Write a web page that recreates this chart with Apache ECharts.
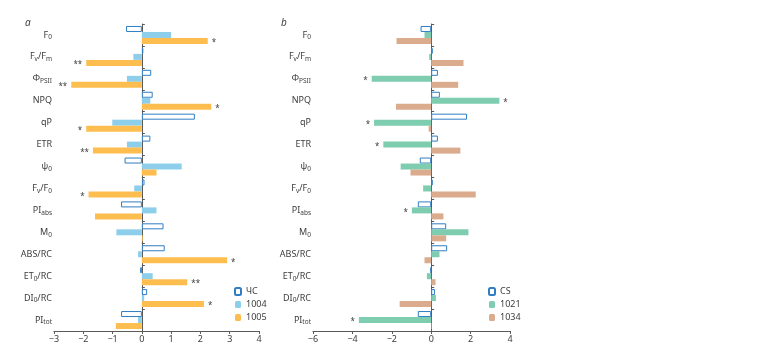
<!DOCTYPE html>
<html>
<head>
    <meta charset="utf-8">
    <script src="https://cdn.jsdelivr.net/npm/echarts@6/dist/echarts.min.js"></script>
    <title>chart</title>
    <style>
        html, body { margin: 0; padding: 0; background: #fff; }
        #main { width: 762px; height: 356px; }
    </style>
</head>
<body>
<div id="main"></div>
<script>
    // categories, top to bottom
    var categories = ['F0', 'Fv/Fm', 'ΦPSII', 'NPQ', 'qP', 'ETR', 'ψ0', 'Fv/F0', 'PIabs', 'M0', 'ABS/RC', 'ET0/RC', 'DI0/RC', 'PItot'];
    var catLabels = ['F{s|0}', 'F{s|v}/F{s|m}', 'Φ{s|PSII}', 'NPQ', 'qP', 'ETR', 'ψ{s|0}', 'F{s|v}/F{s|0}',
        'PI{s|abs}', 'M{s|0}', 'ABS/RC', 'ET{s|0}/RC', 'DI{s|0}/RC', 'PI{s|tot}'];

    // panel a
    var namesA = ['ЧС', '1004', '1005'];
    var csA = [-0.54, 0.05, 0.32, 0.37, 1.81, 0.29, -0.59, 0.09, -0.71, 0.74, 0.78, -0.06, 0.18, -0.71];
    var v1004 = [1.0, -0.29, -0.51, 0.29, -1.01, -0.51, 1.36, -0.26, 0.5, -0.87, -0.13, 0.37, 0.08, -0.13];
    var v1005 = [2.25, -1.9, -2.41, 2.37, -1.9, -1.67, 0.5, -1.82, -1.6, 0.03, 2.91, 1.55, 2.12, -0.89];
    var sig1005 = ['*', '**', '**', '*', '*', '**', '', '*', '', '', '*', '**', '*', ''];
    var ticksA = [-3, -2, -1, 0, 1, 2, 3, 4];

    // panel b
    var namesB = ['CS', '1021', '1034'];
    var csB = [-0.54, 0.08, 0.34, 0.44, 1.82, 0.34, -0.58, 0.08, -0.68, 0.76, 0.81, -0.03, 0.19, -0.68];
    var v1021 = [-0.34, -0.1, -3.02, 3.46, -2.9, -2.43, -1.55, -0.41, -0.98, 1.89, 0.42, -0.22, 0.24, -3.67];
    var v1034 = [-1.76, 1.64, 1.37, -1.79, -0.13, 1.48, -1.05, 2.26, 0.62, 0.76, -0.34, 0.22, -1.6, 0.03];
    var sig1021 = ['', '', '*', '*', '*', '*', '', '', '*', '', '', '', '', '*'];
    var ticksB = [-6, -4, -2, 0, 2, 4];

    var txt = '#3c3c3c';
    var axisCol = '#5a5a5a';
    var font = 'Noto Sans';

    function withMarks(vals, marks) {
        return vals.map(function (v, i) {
            if (!marks || !marks[i]) return v;
            return {
                value: v,
                label: {
                    show: true, formatter: marks[i], position: v < 0 ? 'left' : 'right',
                    distance: 4, fontSize: 8, color: txt, fontFamily: font, offset: [0, 2]
                }
            };
        });
    }

    // labels sit at the grid's left edge
    function labelAxis(g) {
        return {
            type: 'category', gridIndex: g, data: categories, inverse: true,
            axisLine: {show: false, onZero: false}, axisTick: {show: false},
            axisLabel: {
                margin: 2, color: txt, fontSize: 9, fontFamily: font,
                formatter: function (v) { return catLabels[categories.indexOf(v)]; },
                rich: {s: {fontSize: 6.5, color: txt, fontFamily: font, padding: [5, 0, 0, 0]}}
            }
        };
    }

    // axis line drawn at x = 0
    function zeroAxis(g) {
        return {
            type: 'category', gridIndex: g, data: categories, inverse: true,
            axisLine: {show: true, onZero: true, lineStyle: {color: axisCol, width: 1}},
            axisTick: {show: true, length: 3, lineStyle: {color: axisCol}},
            axisLabel: {show: false}
        };
    }

    function valueAxis(g, ticks) {
        return {
            type: 'value', gridIndex: g, min: ticks[0], max: ticks[ticks.length - 1],
            interval: ticks[1] - ticks[0],
            splitLine: {show: false},
            axisLine: {show: true, onZero: false, lineStyle: {color: axisCol}},
            axisTick: {show: true, length: 3, lineStyle: {color: axisCol}},
            axisLabel: {
                color: txt, fontSize: 9, fontFamily: font, margin: 4,
                formatter: function (v) { return String(v).replace('-', '\u2212'); }
            }
        };
    }

    function bar(name, g, vals, marks, style) {
        return {
            name: name, type: 'bar', xAxisIndex: g, yAxisIndex: g * 2,
            data: withMarks(vals, marks), barWidth: 6, barGap: '0%',
            itemStyle: style, emphasis: {disabled: true}
        };
    }

    function legend(names, left) {
        return {
            data: names, left: left, top: 282, orient: 'vertical',
            itemWidth: 6, itemHeight: 7, itemGap: 4, itemTextGap: 3,
            textStyle: {fontSize: 9, color: txt, fontFamily: font}, selectedMode: false
        };
    }

    var csStyle = {color: '#ffffff', borderColor: '#2f7dc2', borderWidth: 1};

    var option = {
        animation: false,
        textStyle: {fontFamily: font},
        title: [
            {text: 'a', left: 20, top: 13, textStyle: {fontSize: 10, fontStyle: 'italic', fontWeight: 'normal', color: txt}},
            {text: 'b', left: 276, top: 13, textStyle: {fontSize: 10, fontStyle: 'italic', fontWeight: 'normal', color: txt}}
        ],
        grid: [
            {left: 54, right: 503, top: 24, bottom: 25},
            {left: 313, right: 252, top: 24, bottom: 25}
        ],
        legend: [legend(namesA, 229), legend(namesB, 483)],
        xAxis: [valueAxis(0, ticksA), valueAxis(1, ticksB)],
        yAxis: [labelAxis(0), zeroAxis(0), labelAxis(1), zeroAxis(1)],
        series: [
            bar(namesA[0], 0, csA, null, csStyle),
            bar(namesA[1], 0, v1004, null, {color: '#8dcfea'}),
            bar(namesA[2], 0, v1005, sig1005, {color: '#fdbe4f'}),
            bar(namesB[0], 1, csB, null, csStyle),
            bar(namesB[1], 1, v1021, sig1021, {color: '#7ecdb0'}),
            bar(namesB[2], 1, v1034, null, {color: '#daab8c'})
        ]
    };

    var chart = echarts.init(document.getElementById('main'));
    chart.setOption(option);
</script>
</body>
</html>
